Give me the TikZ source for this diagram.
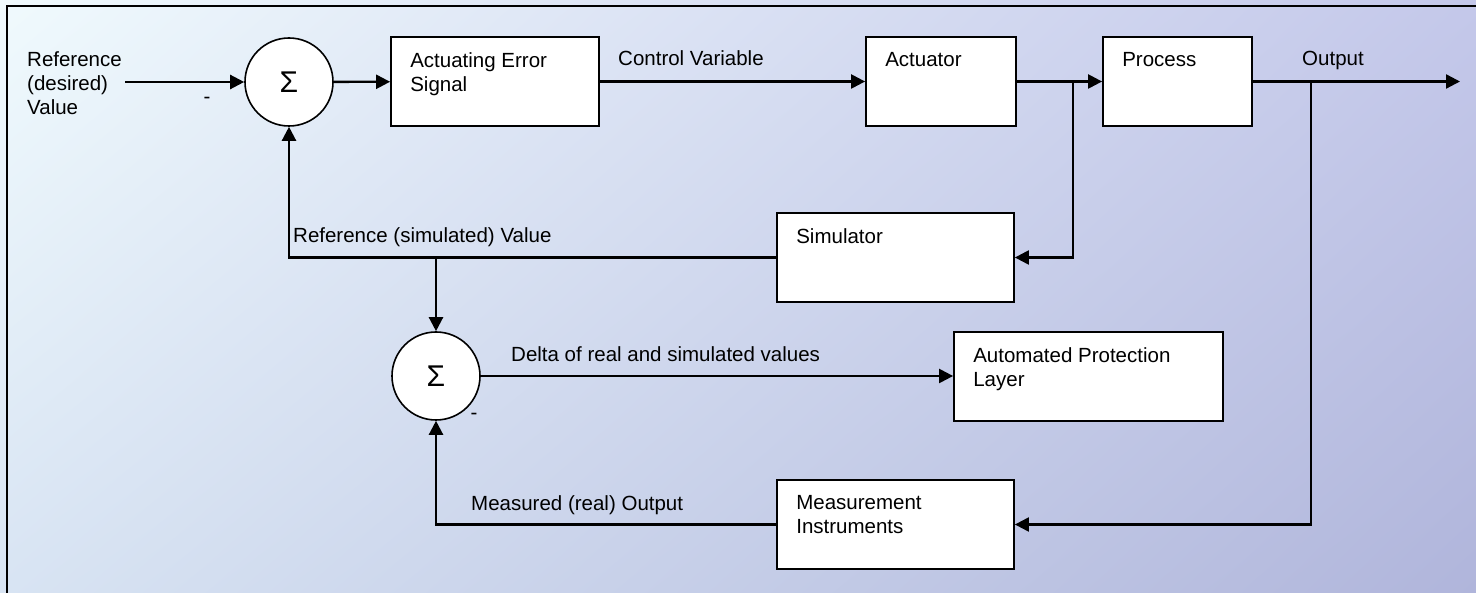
\documentclass[tikz,border=0pt]{standalone}
\usepackage{fontspec}
\setmainfont{Liberation Sans}
\usetikzlibrary{arrows.meta,positioning,shadings}
\definecolor{bgUL}{HTML}{F0FAFD}
\definecolor{bgUR}{HTML}{C4C8EA}
\definecolor{bgLL}{HTML}{D8E4F3}
\definecolor{bgLR}{HTML}{B0B5DB}
\tikzset{%
  >={Triangle[length=14pt,width=14pt]},
  % Specifications for style of nodes:
        block/.style = {rectangle, draw=black, fill=white, line width=1.8pt,
                        minimum width=#1, minimum height=89pt, inner sep=0pt},
    blocktext/.style = {anchor=north west, align=left, inner sep=0pt,
                        xshift=20pt, yshift=-16pt},
          sum/.style = {circle, draw=black, fill=white, line width=1.6pt,
                        minimum size=88pt, inner sep=0pt,
                        font=\fontsize{30}{30}\selectfont},
      edgelbl/.style = {anchor=base west, inner sep=0pt},
         sign/.style = {inner sep=0pt},
         flow/.style = {line width=2.3pt},
}
\begin{document}
\begin{tikzpicture}[x=1pt, y=-1pt, font=\fontsize{20.5}{24}\selectfont]
\useasboundingbox (0,0) rectangle (1476,593);
\shade[upper left=bgUL, upper right=bgUR, lower left=bgLL, lower right=bgLR]
  (0,0) rectangle (1476,593);
\draw[line width=2.5pt] (7,600) -- (7,6) -- (1480,6);

% top row
\node (ref)  [anchor=north west, align=left, inner sep=0pt] at (27,51)
  {Reference\\(desired)\\Value};
\coordinate (refin) at (125,82);
\node (sum1) [sum] at (289,82) {Σ};
\node (aes)  [block=208pt, label={[blocktext]north west:{Actuating Error\\Signal}}]
  at (495,81.5) {};
\node (act)  [block=150pt, label={[blocktext]north west:Actuator}]
  at (941,81.5) {};
\node (proc) [block=149pt, label={[blocktext]north west:Process}]
  at (1177.5,81.5) {};
\coordinate (jp)     at (1073,81.5);
\coordinate (jo)     at (1311,81.5);
\coordinate (outend) at (1460,81.5);

% feedback blocks
\node (sim)  [block=237pt, label={[blocktext]north west:Simulator}]
  at (895.5,257.5) {};
\node (sum2) [sum] at (436,376) {Σ};
\node (apl)  [block=269pt, label={[blocktext]north west:{Automated Protection\\Layer}}]
  at (1088.5,376.5) {};
\node (mi)   [block=237pt, label={[blocktext]north west:{Measurement\\Instruments}}]
  at (895.5,524.5) {};
\coordinate (js) at (436,257.5);

% labels
\node (cvlbl)  [edgelbl] at (618,66)  {Control Variable};
\node (outlbl) [edgelbl] at (1302,66) {Output};
\node (rslbl)  [edgelbl] at (293,243) {Reference (simulated) Value};
\node (dlbl)   [edgelbl] at (511,362) {Delta of real and simulated values};
\node (mlbl)   [edgelbl] at (471,511) {Measured (real) Output};
\node (neg1)   [sign] at (207,100) {-};
\node (neg2)   [sign] at (474,416) {-};

\draw[flow,->] (refin) -- (sum1);
\draw[flow,->] (sum1) -- (aes);
\draw[flow,->] (aes) -- (act);
\draw[flow]    (act) -- (jp);
\draw[flow,->] (jp) -- (proc);
\draw[flow,->] (proc) -- (outend);
\draw[flow,->] (jp) |- (sim.east);
\draw[flow,->] (sim.west) -| (sum1.south);
\draw[flow,->] (js) -- (sum2.north);
\draw[flow,->] (sum2.east) -- (sum2.east -| apl.west);
\draw[flow,->] (jo) |- (mi.east);
\draw[flow,->] (mi.west) -| (sum2.south);
\end{tikzpicture}
\end{document}
